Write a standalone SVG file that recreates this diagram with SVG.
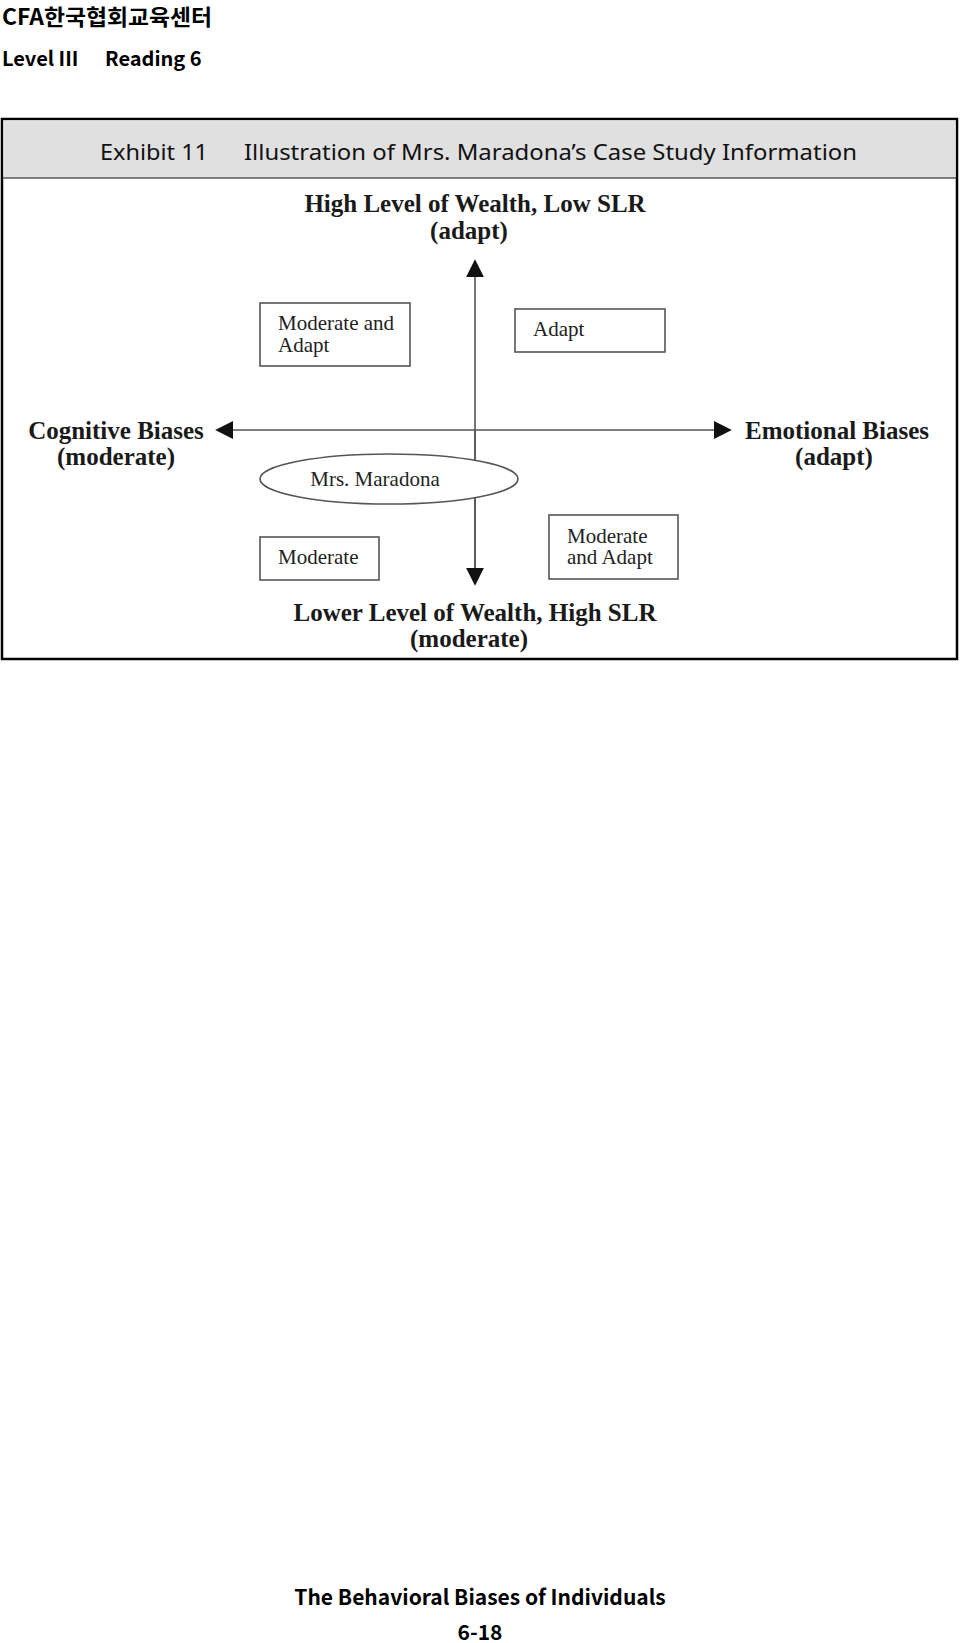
<svg xmlns="http://www.w3.org/2000/svg" width="960" height="1643" viewBox="0 0 960 1643">
<defs>
<style>
.hdr{font-family:"Noto Sans CJK KR","Noto Sans",sans-serif;font-weight:bold;fill:#000}
.ttl{font-family:"Noto Sans","Liberation Sans",sans-serif;font-size:22px;fill:#111}
.axl{font-family:"Liberation Serif",serif;font-weight:bold;font-size:25px;fill:#1a1a1a;text-anchor:middle}
.bx{fill:#fff;stroke:#555;stroke-width:1.6}
.bt{font-family:"Liberation Serif",serif;font-size:21px;fill:#222}
.ax{stroke:#555;stroke-width:1.6;fill:none}
.ft{font-family:"Noto Sans CJK KR","Noto Sans",sans-serif;font-weight:bold;font-size:21px;fill:#000;text-anchor:middle}
</style>
<marker id="ah" viewBox="0 0 10 10" refX="9" refY="5" markerWidth="18" markerHeight="18" markerUnits="userSpaceOnUse" orient="auto">
<path d="M0,0 L10,5 L0,10 z" fill="#111"/>
</marker>
</defs>
<rect width="960" height="1643" fill="#fff"/>
<g id="page-header">
<text class="hdr" x="2" y="25" font-size="22" textLength="210" lengthAdjust="spacingAndGlyphs">CFA한국협회교육센터</text>
<text class="hdr" x="2" y="66" font-size="20">Level III</text>
<text class="hdr" x="105" y="66" font-size="20">Reading 6</text>
</g>
<g id="frame">
<rect x="2" y="119" width="955" height="540" fill="#fff" stroke="#000" stroke-width="2.5"/>
<rect x="3.5" y="120.5" width="952" height="57" fill="#e0e0e0"/>
<line x1="3" y1="178" x2="956" y2="178" stroke="#555" stroke-width="1.5"/>
<text class="ttl" x="100" y="160" textLength="108" lengthAdjust="spacingAndGlyphs">Exhibit 11</text>
<text class="ttl" x="244" y="160" textLength="613" lengthAdjust="spacingAndGlyphs">Illustration of Mrs. Maradona’s Case Study Information</text>
</g>
<g id="connectors">
<line class="ax" x1="475" y1="584" x2="475" y2="261" marker-end="url(#ah)"/>
<line class="ax" x1="475" y1="430" x2="475" y2="584" marker-end="url(#ah)"/>
<line class="ax" x1="475" y1="430" x2="217" y2="430" marker-end="url(#ah)"/>
<line class="ax" x1="475" y1="430" x2="730" y2="430" marker-end="url(#ah)"/>
</g>
<g id="label-top">
<text class="axl" x="475" y="212">High Level of Wealth, Low SLR</text>
<text class="axl" x="469" y="239">(adapt)</text>
</g>
<g id="label-bottom">
<text class="axl" x="475" y="621">Lower Level of Wealth, High SLR</text>
<text class="axl" x="469" y="647">(moderate)</text>
</g>
<g id="label-left">
<text class="axl" x="116" y="439">Cognitive Biases</text>
<text class="axl" x="116" y="465">(moderate)</text>
</g>
<g id="label-right">
<text class="axl" x="837" y="439">Emotional Biases</text>
<text class="axl" x="834" y="465">(adapt)</text>
</g>
<g id="box-moderate-adapt-tl">
<rect class="bx" x="260" y="303" width="150" height="63"/>
<text class="bt" x="278" y="330">Moderate and</text>
<text class="bt" x="278" y="352">Adapt</text>
</g>
<g id="box-adapt">
<rect class="bx" x="515" y="309" width="150" height="43"/>
<text class="bt" x="533" y="336">Adapt</text>
</g>
<g id="node-maradona">
<ellipse class="bx" cx="389" cy="479" rx="129" ry="25"/>
<text class="bt" x="375" y="486" text-anchor="middle">Mrs. Maradona</text>
</g>
<g id="box-moderate">
<rect class="bx" x="260" y="537" width="119" height="43"/>
<text class="bt" x="278" y="564">Moderate</text>
</g>
<g id="box-moderate-adapt-br">
<rect class="bx" x="549" y="515" width="129" height="64"/>
<text class="bt" x="567" y="543">Moderate</text>
<text class="bt" x="567" y="564">and Adapt</text>
</g>
<g id="page-footer">
<text class="ft" x="480" y="1605">The Behavioral Biases of Individuals</text>
<text class="ft" x="480" y="1640">6-18</text>
</g>
</svg>
